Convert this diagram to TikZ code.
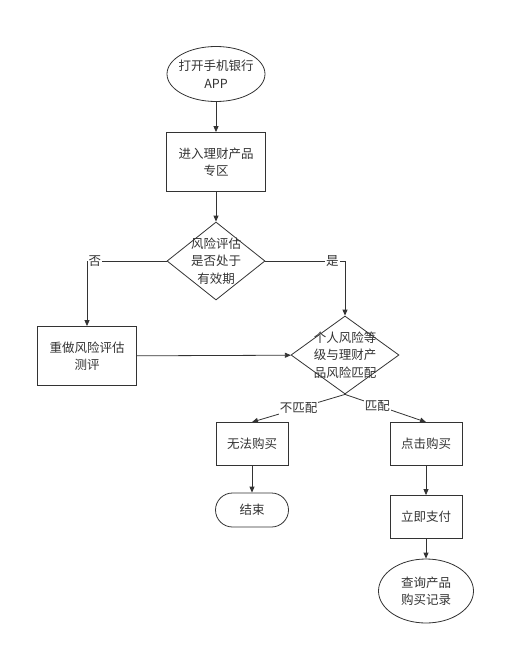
\documentclass[tikz,border=0pt]{standalone}
\usepackage{fontspec}
\setmainfont{Noto Sans CJK SC}
\usetikzlibrary{positioning,shapes.geometric,arrows.meta}
\definecolor{linegray}{HTML}{333333}

\begin{document}
\begin{tikzpicture} [x=1pt, y=1pt, node distance=88pt, color=linegray, line width=0.8pt,
                    >={Triangle[length=6pt,width=5pt]},
                    every node/.style={font=\fontsize{12.5}{17.5}\selectfont, align=center},
                    stepbox/.style={rectangle,draw,minimum width=99pt,minimum height=59pt},
                    smallbox/.style={rectangle,draw,minimum width=72pt,minimum height=43pt},
                    decision/.style={diamond,draw,inner sep=-8pt},
                    startnode/.style={ellipse,draw,minimum width=98pt,minimum height=55pt,inner sep=-4pt},
                    endnode/.style={rectangle,draw,rounded corners=17pt,minimum width=73pt,minimum height=34pt},
                    branch/.style={fill=white,inner sep=1pt}]

\useasboundingbox (0,0) rectangle (510,-661);

\node[startnode] (open) at (216,-74) {打开手机银行\\APP};
\node[stepbox] (enter) [below of=open] {进入理财产品\\专区};
\node[decision,minimum width=98pt,minimum height=78pt] (valid) [node distance=99pt, below of=enter] {风险评估\\是否处于\\有效期};
\node[stepbox] (redo) [on grid, below left=95pt and 129pt of valid] {重做风险评估\\测评};
\node[decision,minimum width=108pt,minimum height=78pt] (match) [on grid, below right=94pt and 129pt of valid] {个人风险等\\级与理财产\\品风险匹配};
\node[smallbox] (nobuy) [on grid, below left=89pt and 93pt of match] {无法购买};
\node[smallbox] (buy) [on grid, below right=89pt and 81pt of match] {点击购买};
\node[endnode] (finish) [node distance=66pt, below of=nobuy] {结束};
\node[smallbox] (pay) [node distance=73pt, below of=buy] {立即支付};
\node[ellipse,draw,minimum width=95pt,minimum height=64pt] (record) [node distance=74pt, below of=pay] {查询产品\\购买记录};

 \path[->]
    (open) edge (enter)
    (enter) edge (valid)
    (redo) edge (match)
    (match.south) edge node[branch,pos=0.5] {不匹配} (nobuy.north)
    (match.south) edge node[branch,pos=0.4] {匹配} (buy.north)
    (nobuy) edge (finish)
    (buy) edge (pay)
    (pay) edge (record);

\draw[->] (valid) -| node[branch,pos=0.45] {否} (redo);
\draw[->] (valid) -| node[branch,pos=0.42] {是} (match);
\end{tikzpicture}
\end{document}
